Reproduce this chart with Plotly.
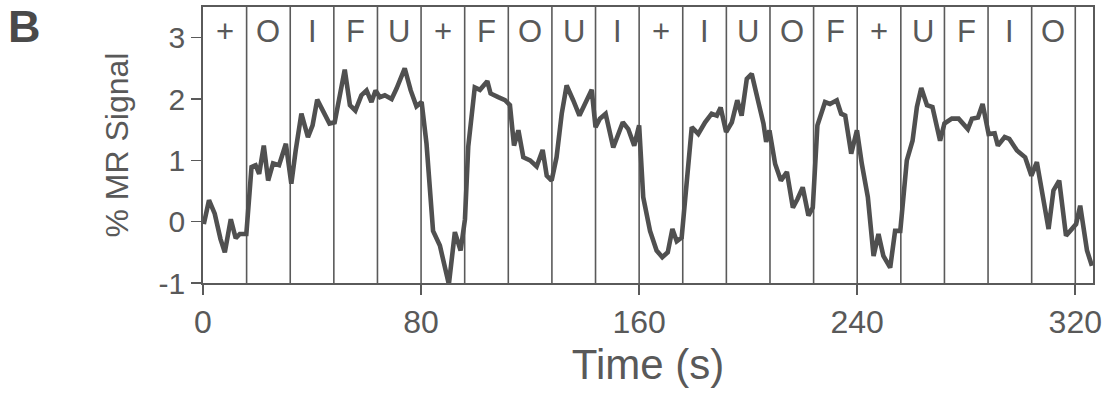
import plotly.graph_objects as go

# Time (s) and % MR signal
time_s = [0.3, 2.2, 4.3, 6.4, 8.0, 10.2, 12.0, 13.5, 15.9, 17.8, 19.3, 20.6, 22.3, 23.9,
          25.7, 27.9, 30.4, 32.4, 34.0, 36.1, 38.5, 40.2, 41.9, 44.0, 46.4, 48.3, 50.2,
          52.0, 53.9, 55.9, 58.1, 60.0, 61.8, 63.3, 64.9, 66.7, 69.2, 71.0, 74.0, 76.2,
          78.3, 80.2, 82.0, 84.4, 86.9, 88.7, 90.2, 92.4, 94.5, 96.1, 97.3, 99.7, 101.6,
          104.3, 105.5, 108.3, 110.8, 112.6, 114.1, 115.7, 117.5, 120.0, 122.4, 124.6,
          126.1, 127.9, 129.7, 131.6, 133.4, 135.8, 138.1, 142.6, 144.0, 145.6, 147.7,
          150.5, 152.4, 154.0, 156.0, 158.2, 160.0, 161.5, 164.0, 166.4, 168.5, 170.5,
          172.2, 173.8, 175.6, 177.5, 179.3, 181.7, 184.2, 186.6, 188.5, 189.9, 191.9,
          194.0, 196.0, 197.6, 199.5, 201.3, 203.7, 205.6, 206.6, 207.8, 209.9, 212.0,
          214.2, 216.4, 218.1, 220.0, 222.1, 223.7, 225.4, 228.2, 230.0, 232.5, 234.1,
          235.6, 237.8, 239.9, 241.7, 243.9, 246.0, 247.8, 249.6, 252.1, 253.9, 255.8,
          258.2, 260.3, 261.9, 263.5, 265.6, 267.6, 270.4, 272.0, 274.7, 277.2, 280.6,
          282.1, 284.3, 286.0, 288.2, 290.4, 291.6, 294.1, 295.8, 298.6, 301.6, 303.9,
          305.9, 308.0, 310.2, 312.0, 314.1, 316.6, 318.8, 320.3, 321.8, 324.3, 326.1]
signal = [-0.04, 0.35, 0.13, -0.28, -0.50, 0.04, -0.27, -0.20, -0.20, 0.89, 0.92, 0.78, 1.24, 0.67,
          0.95, 0.92, 1.27, 0.62, 1.16, 1.76, 1.38, 1.57, 1.99, 1.79, 1.60, 1.62, 2.09,
          2.48, 1.90, 1.81, 2.06, 2.14, 1.95, 2.14, 2.03, 2.06, 2.00, 2.17, 2.50, 2.14,
          1.88, 1.95, 1.27, -0.15, -0.39, -0.75, -1.02, -0.17, -0.47, 0.04, 1.22, 2.19, 2.15,
          2.29, 2.09, 2.03, 1.98, 1.90, 1.24, 1.49, 1.05, 1.00, 0.90, 1.17,
          0.75, 0.67, 1.05, 1.76, 2.22, 1.98, 1.73, 2.15, 1.54, 1.68, 1.76,
          1.21, 1.41, 1.62, 1.51, 1.24, 1.57, 0.40, -0.15, -0.47, -0.58, -0.50,
          -0.12, -0.32, -0.26, 0.64, 1.54, 1.43, 1.62, 1.76, 1.73, 1.86, 1.46,
          1.62, 1.98, 1.73, 2.33, 2.41, 1.92, 1.60, 1.30, 1.49, 0.94, 0.67,
          0.81, 0.23, 0.37, 0.56, 0.10, 0.23, 1.57, 1.95, 1.92, 1.98, 1.76,
          1.73, 1.11, 1.49, 0.94, 0.40, -0.56, -0.20, -0.56, -0.75, -0.15, -0.15,
          1.00, 1.32, 1.87, 2.18, 1.90, 1.87, 1.32, 1.60, 1.68, 1.68, 1.51,
          1.68, 1.70, 1.92, 1.43, 1.44, 1.24, 1.38, 1.35, 1.16, 1.05, 0.75,
          0.97, 0.45, -0.12, 0.51, 0.67, -0.23, -0.12, -0.04, 0.26, -0.47, -0.72]

# Stimulus blocks (16 s each)
block_len = 16
block_labels = ["+", "O", "I", "F", "U", "+", "F", "O", "U", "I",
                "+", "I", "U", "O", "F", "+", "U", "F", "I", "O"]

x_ticks = [0, 80, 160, 240, 320]
x_ticktext = ["0", "80", "160", "240", "320"]
y_ticks = [-1, 0, 1, 2, 3]
y_ticktext = ["-1", "0", "1", "2", "3"]
x_range = [0, 326.5]
y_range = [-1, 3.5]

LINE = "#505050"
AX = "#5a5a5a"
TXT = "#595959"
FONT = "Liberation Sans, Arial, Helvetica, sans-serif"

fig = go.Figure()

# block boundary lines
shapes = []
for i in range(1, len(block_labels) + 1):
    bx = i * block_len
    shapes.append(dict(type="line", xref="x", yref="paper", x0=bx, x1=bx, y0=0, y1=1,
                       line=dict(color=AX, width=1.6), layer="below"))

annotations = []
for i, lab in enumerate(block_labels):
    annotations.append(dict(x=i * block_len + block_len / 2, y=3.1, xref="x", yref="y",
                            text=lab, showarrow=False, xanchor="center", yanchor="middle",
                            font=dict(size=31, color=TXT, family=FONT)))

annotations.append(dict(x=-0.221, y=1.03, xref="paper", yref="paper", text="<b>B</b>",
                        showarrow=False, xanchor="left", yanchor="top",
                        font=dict(size=45, color="#4a4a4a", family=FONT)))

fig.add_trace(go.Scatter(x=time_s, y=signal, mode="lines",
                         line=dict(color=LINE, width=4.6), showlegend=False,
                         hoverinfo="skip"))

fig.update_layout(
    width=1105, height=398,
    margin=dict(l=203, r=12, t=7, b=115, autoexpand=False),
    paper_bgcolor="white", plot_bgcolor="white",
    shapes=shapes, annotations=annotations,
    font=dict(family=FONT, color=TXT),
)
fig.update_xaxes(range=x_range, tickvals=x_ticks, ticktext=x_ticktext, ticks="outside", ticklen=10,
                 tickwidth=1.6, tickcolor=AX, showgrid=False, zeroline=False,
                 showline=True, linecolor=AX, linewidth=1.8, mirror=True, automargin=False,
                 tickfont=dict(size=32, color=TXT),
                 title=dict(text="Time (s)", font=dict(size=42, color=TXT), standoff=10))
fig.update_yaxes(range=y_range, tickvals=y_ticks, ticktext=y_ticktext, ticks="outside", ticklen=10,
                 tickwidth=1.6, tickcolor=AX, showgrid=False, zeroline=False,
                 showline=True, linecolor=AX, linewidth=1.8, mirror=True, automargin=False,
                 tickfont=dict(size=30, color=TXT),
                 title=dict(text="% MR Signal", font=dict(size=32, color=TXT), standoff=20))

fig.write_html("out.html", config={"displayModeBar": False, "staticPlot": True},
               post_script="document.body.style.margin='0';")
